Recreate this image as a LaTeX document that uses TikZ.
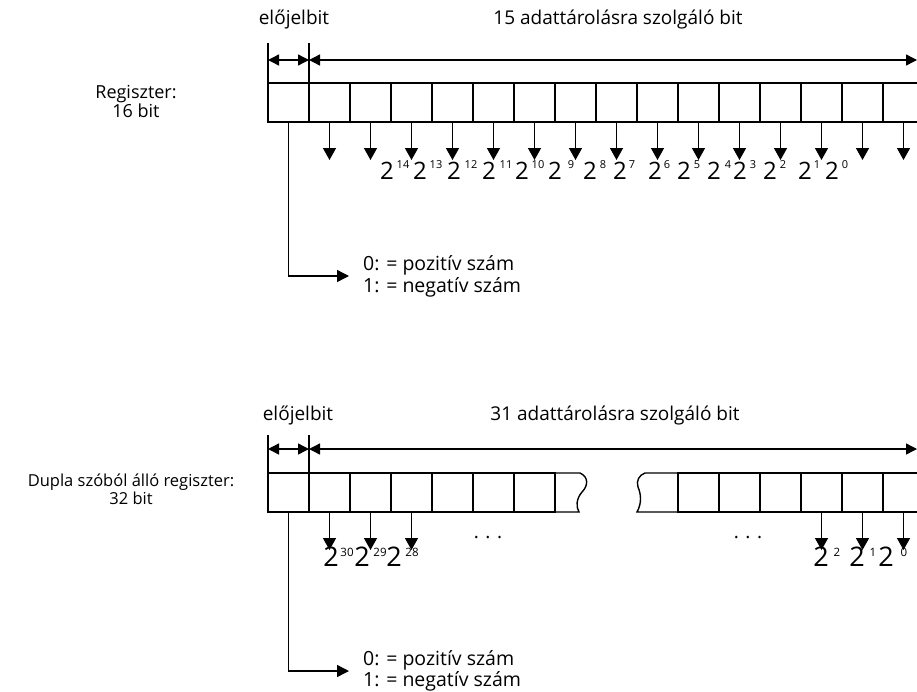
\documentclass[tikz,border=0pt]{standalone}
\usepackage{fontspec}
\setmainfont{Open Sans}
\usetikzlibrary{arrows.meta}
\begin{document}
\begin{tikzpicture}[x=1pt,y=-1pt,
  ln/.style={line width=1.4pt},
  cell/.style={draw,line width=1.4pt,minimum width=41pt,minimum height=39pt,inner sep=0pt,outer sep=0pt,anchor=north west},
  down/.style={line width=1.4pt,-{Triangle[length=12pt,width=13pt]}},
  dim/.style={line width=1.4pt,{Triangle[length=11pt,width=11pt]}-{Triangle[length=11pt,width=11pt]}},
  sgnarrow/.style={line width=1.4pt,-{Triangle[length=12pt,width=12pt]}},
  txt/.style={font=\fontsize{19}{20}\selectfont,inner sep=0pt},
  side/.style={align=center,inner sep=0pt},
  two/.style={font=\fontsize{24}{26}\selectfont,inner sep=0pt},
  twob/.style={font=\fontsize{27}{30}\selectfont,inner sep=0pt},
  sup/.style={font=\fontsize{11}{12}\selectfont,inner sep=0pt},
  supb/.style={font=\fontsize{11.5}{13}\selectfont,inner sep=0pt},
]
\useasboundingbox (0,0) rectangle (917,691);

% ===== Top register (16 bit) =====
\node[txt] (eb1) at (294,20) {előjelbit};
\node[txt] (lbl1) at (618,20) {15 adattárolásra szolgáló bit};
\node[side,font=\fontsize{18}{17}\selectfont] (reg1) at (136,101) {Regiszter:\\16 bit};

\foreach \i in {1,...,15} \node[cell] (a\i) at ({268+41*(\i-1)},83) {};
\draw[ln] (a15.north east) -- (917,83);
\draw[ln] (a15.south east) -- (917,122);

\coordinate (ta1) at (268,43);
\coordinate (ta2) at (309,43);
\draw[ln] (ta1) -- (a1.north west);
\draw[ln] (ta2) -- (a1.north east);
\coordinate (da1) at (268,60);
\coordinate (da2) at (309,60);
\coordinate (da3) at (917,60);
\draw[dim] (da1) -- (da2);
\draw[dim] (da2) -- (da3);

\foreach \i in {2,...,15} \draw[down] (a\i.south) -- ++(0,38);
\coordinate (a16) at (903.5,122);
\draw[down] (a16) -- ++(0,38);

\foreach \x/\s/\e in {387/403/14,420/436/13,454/471/12,489/506/11,522/538/10,555/571/9,590/603/8,620/632/7,655/667/6,684/697/5,714/728/4,740/753/3,770/783/2,805/817/1,832/845/0}{
  \node[two] (p\e) at (\x,171) {2};
  \node[sup] (q\e) at (\s,165) {\e};
}

\node[txt,align=left,anchor=west,font=\fontsize{19.5}{22}\selectfont] (sgn1) at (363,276) {0: = pozitív szám\\1: = negatív szám};
\draw[sgnarrow] (a1.south) |- ([xshift=-14pt]sgn1.west);

% ===== Bottom register (32 bit) =====
\node[txt] (eb2) at (298,415) {előjelbit};
\node[txt] (lbl2) at (615,415) {31 adattárolásra szolgáló bit};
\node[side,font=\fontsize{16.5}{18}\selectfont] (reg2) at (131,489) {Dupla szóból álló regiszter:\\32 bit};

\foreach \i in {1,...,7} \node[cell] (b\i) at ({268+41*(\i-1)},473) {};
\draw[ln] (b7.north east) -- (580,473) .. controls (589,477) and (588,486) .. (582,492)
   .. controls (576,499) and (576,507) .. (579,512) -- (b7.south east);

\foreach \i in {1,...,5} \node[cell] (r\i) at ({678+41*(\i-1)},473) {};
\draw[ln] (r1.north west) -- (645,473) .. controls (639,475) and (636,481) .. (638,487)
   .. controls (641,494) and (642,503) .. (637,512) -- (r1.south west);
\draw[ln] (r5.north east) -- (917,473);
\draw[ln] (r5.south east) -- (917,512);

\coordinate (tb1) at (268,435);
\coordinate (tb2) at (309,435);
\draw[ln] (tb1) -- (b1.north west);
\draw[ln] (tb2) -- (b1.north east);
\coordinate (db1) at (268,449);
\coordinate (db2) at (309,449);
\coordinate (db3) at (917,449);
\draw[dim] (db1) -- (db2);
\draw[dim] (db2) -- (db3);

\foreach \i in {2,3,4} \draw[down] (b\i.south) -- ++(0,38);
\foreach \i in {4,5} \draw[down] (r\i.south) -- ++(0,38);
\coordinate (r6) at (903.5,512);
\draw[down] (r6) -- ++(0,38);

\foreach \x/\s/\e in {331/347/30,362/380/29,394/412/28,821/837/2,857/873/1,886/904/0}{
  \node[twob] (u\e) at (\x,557) {2};
  \node[supb] (v\e) at (\s,552) {\e};
}
\node[txt] (dots1) at (488,538) {. . .};
\node[txt] (dots2) at (748,538) {. . .};

\node[txt,align=left,anchor=west,font=\fontsize{19.5}{18}\selectfont] (sgn2) at (363,671) {0: = pozitív szám\\1: = negatív szám};
\draw[sgnarrow] (b1.south) |- ([xshift=-14pt]sgn2.west);
\end{tikzpicture}
\end{document}
